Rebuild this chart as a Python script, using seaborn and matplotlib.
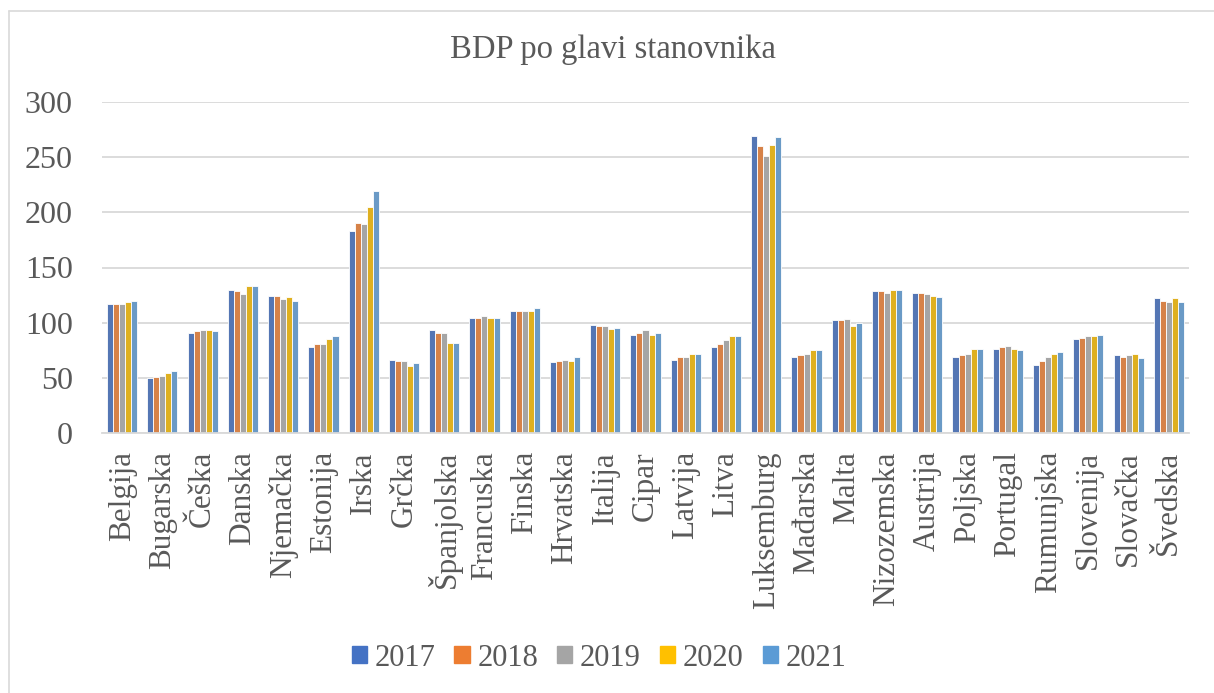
import matplotlib
matplotlib.use('Agg')
import matplotlib.pyplot as plt
from matplotlib.lines import Line2D
import pandas as pd
import seaborn as sns

# Data
countries = ['Belgija', 'Bugarska', 'Češka', 'Danska', 'Njemačka', 'Estonija', 'Irska',
             'Grčka', 'Španjolska', 'Francuska', 'Finska', 'Hrvatska', 'Italija', 'Cipar',
             'Latvija', 'Litva', 'Luksemburg', 'Mađarska', 'Malta', 'Nizozemska', 'Austrija',
             'Poljska', 'Portugal', 'Rumunjska', 'Slovenija', 'Slovačka', 'Švedska']
years = ['2017', '2018', '2019', '2020', '2021']

gdp_2017 = [117, 50, 91, 130, 124, 78, 183, 66, 93, 104, 111, 64, 98, 89,
            66, 78, 269, 69, 102, 129, 127, 69, 76, 62, 85, 71, 122]
gdp_2018 = [117, 51, 92, 129, 124, 81, 190, 65, 91, 104, 111, 65, 97, 91,
            69, 81, 260, 71, 102, 129, 127, 71, 78, 65, 86, 69, 120]
gdp_2019 = [117, 52, 93, 126, 121, 81, 189, 65, 91, 106, 111, 66, 97, 93,
            69, 84, 251, 72, 103, 127, 126, 72, 79, 69, 88, 71, 119]
gdp_2020 = [119, 54, 93, 133, 123, 85, 205, 61, 82, 104, 111, 65, 94, 89,
            72, 88, 261, 75, 97, 130, 124, 76, 76, 72, 88, 72, 122]
gdp_2021 = [120, 56, 92, 133, 120, 88, 219, 63, 82, 104, 113, 69, 95, 91,
            72, 88, 268, 75, 100, 130, 123, 76, 75, 73, 89, 68, 119]

colors = ['#4472C4', '#ED7D31', '#A5A5A5', '#FFC000', '#5B9BD5']

series = [gdp_2017, gdp_2018, gdp_2019, gdp_2020, gdp_2021]
rows = []
for year, vals in zip(years, series):
    for c, v in zip(countries, vals):
        rows.append({'Zemlja': c, 'Godina': year, 'BDP': v})
df = pd.DataFrame(rows)

sns.set_style('white')
plt.rcParams['font.family'] = ['Liberation Serif', 'DejaVu Serif']
text_color = '#595959'
grid_color = '#D9D9D9'

fig = plt.figure(figsize=(12.14, 6.93), dpi=100)
ax = fig.add_axes([102 / 1214, 1 - 433 / 693, (1189 - 102) / 1214, (433 - 102) / 693])

sns.barplot(data=df, x='Zemlja', y='BDP', hue='Godina', palette=colors,
            width=0.75, edgecolor='white', linewidth=0.6, ax=ax, legend=False)

ax.set_ylim(0, 300)
ax.set_yticks(range(0, 301, 50))
ax.set_xlim(-0.5, len(countries) - 0.5)
ax.yaxis.grid(True, color=grid_color, linewidth=1.3)
ax.set_axisbelow(True)
for s in ['top', 'right', 'left']:
    ax.spines[s].set_visible(False)
ax.spines['bottom'].set_color(grid_color)
ax.spines['bottom'].set_linewidth(1.3)
ax.set_xlabel('')
ax.set_ylabel('')
ax.tick_params(axis='y', length=0, pad=21, labelsize=23, labelcolor=text_color)
ax.tick_params(axis='x', length=0, pad=13, labelsize=22.5, labelcolor=text_color)
ax.set_xticks(range(len(countries)))
ax.set_xticklabels(countries, rotation=90, ha='center', va='top')

fig.text(613 / 1214, 1 - 50 / 693, 'BDP po glavi stanovnika', ha='center', va='center',
         fontsize=23.5, color=text_color)

handles = [plt.Rectangle((0, 0), 1, 1, color=c) for c in colors]
fig.legend(handles, years, loc='center', bbox_to_anchor=(599 / 1214, 1 - 658 / 693),
           ncol=5, frameon=False, fontsize=22, handlelength=0.5, handleheight=0.5,
           handletextpad=0.25, columnspacing=0.62, labelcolor=text_color)

# chart border (only top and left edges visible in the reference)
fig.add_artist(Line2D([9 / 1214, 9 / 1214], [0, 1 - 11 / 693], transform=fig.transFigure,
                      color=grid_color, linewidth=1.2))
fig.add_artist(Line2D([9 / 1214, 1], [1 - 11 / 693, 1 - 11 / 693], transform=fig.transFigure,
                      color=grid_color, linewidth=1.2))

fig.savefig('out.png', dpi=100)
